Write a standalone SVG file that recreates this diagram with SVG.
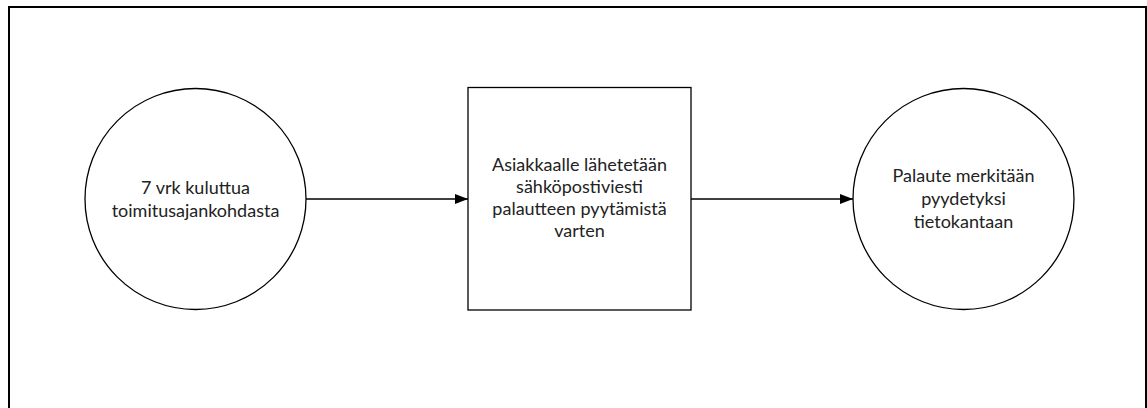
<svg xmlns="http://www.w3.org/2000/svg" width="1147" height="408" viewBox="0 0 1147 408">
<style>
.shape{fill:#fff;stroke:#000;stroke-width:1.3}
.lbl{font-family:Lato,"Open Sans",sans-serif;font-size:18px;fill:#222;text-anchor:middle}
.edge{stroke:#000;stroke-width:1.3;fill:none}
</style>
<defs>
<marker id="arr" viewBox="0 0 13 10" refX="13" refY="5" markerWidth="13" markerHeight="10" markerUnits="userSpaceOnUse" orient="auto">
<path d="M0,0 L13,5 L0,10 Z" fill="#000"/>
</marker>
</defs>
<rect width="1147" height="408" fill="#fff"/>
<path d="M9,410 V7 H1146 V410" fill="none" stroke="#000" stroke-width="2"/>
<g id="n1">
<circle class="shape" cx="195.5" cy="199" r="110.5"/>
<text class="lbl" x="195.5" y="194">7 vrk kuluttua</text>
<text class="lbl" x="195.5" y="217">toimitusajankohdasta</text>
</g>
<g id="n2">
<rect class="shape" x="468" y="87.5" width="223" height="222.5"/>
<text class="lbl" x="579.5" y="171">Asiakkaalle lähetetään</text>
<text class="lbl" x="579.5" y="193">sähköpostiviesti</text>
<text class="lbl" x="579.5" y="215">palautteen pyytämistä</text>
<text class="lbl" x="579.5" y="237">varten</text>
</g>
<g id="n3">
<circle class="shape" cx="963.5" cy="199" r="110.5"/>
<text class="lbl" x="963.5" y="182">Palaute merkitään</text>
<text class="lbl" x="963.5" y="205">pyydetyksi</text>
<text class="lbl" x="963.5" y="228">tietokantaan</text>
</g>
<g id="edges">
<line class="edge" x1="306" y1="199" x2="468" y2="199" marker-end="url(#arr)"/>
<line class="edge" x1="691" y1="199" x2="853" y2="199" marker-end="url(#arr)"/>
</g>
</svg>
